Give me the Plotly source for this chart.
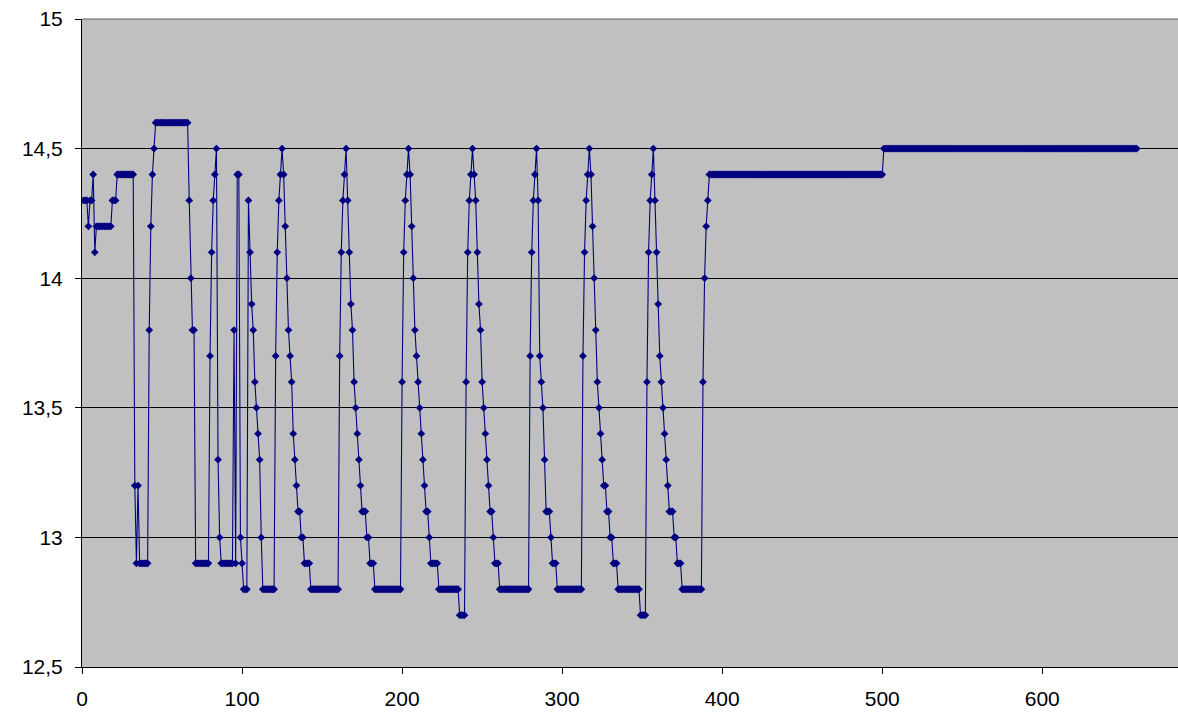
import plotly.graph_objects as go

# Run-length description of the series (value, repeat count)
run_values = [
    14.3, 14.2, 14.3, 14.4, 14.1, 14.2, 14.3, 14.4,
    13.2, 12.9, 13.2, 12.9,
    13.8, 14.2, 14.4, 14.5, 14.6,
    14.3, 14.0, 13.8, 12.9,
    13.7, 14.1, 14.3, 14.4, 14.5,
    13.3, 13.0, 12.9, 13.8, 12.9, 14.4, 13.0, 12.9, 12.8,
    14.3, 14.1, 13.9, 13.8, 13.6, 13.5, 13.4, 13.3, 13.0, 12.8,
    # cycle peak ~125
    13.7, 14.1, 14.3, 14.4, 14.5, 14.4, 14.2, 14.0, 13.8, 13.7, 13.6, 13.4, 13.3, 13.2,
    13.1, 13.0, 12.9, 12.8,
    # cycle peak ~165
    13.7, 14.1, 14.3, 14.4, 14.5, 14.3, 14.1, 13.9, 13.8, 13.6, 13.5, 13.4, 13.3, 13.2,
    13.1, 13.0, 12.9, 12.8,
    # cycle peak ~204
    13.6, 14.1, 14.3, 14.4, 14.5, 14.4, 14.2, 14.0, 13.8, 13.7, 13.6, 13.5, 13.4, 13.3, 13.2,
    13.1, 13.0, 12.9, 12.8, 12.7,
    # cycle peak ~244
    13.6, 14.1, 14.3, 14.4, 14.5, 14.4, 14.3, 14.1, 13.9, 13.8, 13.6, 13.5, 13.4, 13.3, 13.2,
    13.1, 13.0, 12.9, 12.8,
    # cycle peak ~284
    13.7, 14.1, 14.3, 14.4, 14.5, 14.3, 13.7, 13.6, 13.5, 13.3,
    13.1, 13.0, 12.9, 12.8,
    # cycle peak ~317
    13.7, 14.1, 14.3, 14.4, 14.5, 14.4, 14.2, 14.0, 13.8, 13.6, 13.5, 13.4, 13.3,
    13.2, 13.1, 13.0, 12.9, 12.8, 12.7,
    # cycle peak ~357
    13.6, 14.1, 14.3, 14.4, 14.5, 14.3, 14.1, 13.9, 13.7, 13.6, 13.5, 13.4, 13.3, 13.2,
    13.1, 13.0, 12.9, 12.8,
    # final rise and plateaus
    13.6, 14.0, 14.2, 14.3, 14.4, 14.5,
]
run_lengths = [
    3, 1, 2, 1, 1, 10, 3, 11,
    1, 1, 1, 6,
    1, 1, 1, 1, 21,
    1, 1, 2, 9,
    1, 1, 1, 1, 1,
    1, 1, 8, 1, 1, 2, 1, 1, 3,
    1, 1, 1, 1, 1, 1, 1, 1, 1, 8,
    1, 1, 1, 1, 1, 1, 1, 1, 1, 1, 1, 1, 1, 1,
    2, 2, 4, 18,
    1, 1, 1, 1, 1, 1, 1, 1, 1, 1, 1, 1, 1, 1,
    3, 2, 3, 17,
    1, 1, 1, 1, 1, 1, 1, 1, 1, 1, 1, 1, 1, 1, 1,
    2, 1, 5, 13, 4,
    1, 1, 1, 1, 1, 1, 1, 1, 1, 1, 1, 1, 1, 1, 1,
    2, 1, 3, 19,
    1, 1, 1, 1, 1, 1, 1, 1, 1, 1,
    3, 1, 3, 16,
    1, 1, 1, 1, 1, 1, 1, 1, 1, 1, 1, 1, 1,
    2, 2, 2, 3, 14, 4,
    1, 1, 1, 1, 1, 1, 1, 1, 1, 1, 1, 1, 1, 1,
    3, 2, 3, 13,
    1, 1, 1, 1, 109, 159,
]

x_ticks = [0, 100, 200, 300, 400, 500, 600]
y_ticks = [12.5, 13, 13.5, 14, 14.5, 15]

y_values = []
for v, n in zip(run_values, run_lengths):
    y_values.extend([v] * n)
x_values = list(range(1, len(y_values) + 1))

navy = "#000080"
font = dict(family="Liberation Sans, Arial, sans-serif", size=21, color="black")

fig = go.Figure()
fig.add_trace(go.Scatter(
    x=x_values, y=y_values, mode="lines+markers",
    line=dict(color=navy, width=1.1),
    marker=dict(symbol="diamond", size=6, color=navy, line=dict(width=0)),
    showlegend=False,
))

fig.update_layout(
    width=1178, height=716,
    margin=dict(l=82, r=0, t=19, b=49),
    paper_bgcolor="white",
    plot_bgcolor="#C0C0C0",
    separators=", ",
    font=font,
    xaxis=dict(
        range=[0, 684.8], tickvals=x_ticks, ticks="outside", ticklen=6,
        tickcolor="black", showline=True, linecolor="black", linewidth=1,
        showgrid=False, zeroline=False, tickfont=font, ticklabelstandoff=7,
    ),
    yaxis=dict(
        range=[12.5, 15], tickvals=y_ticks, ticks="outside", ticklen=6,
        tickcolor="black", showline=True, linecolor="black", linewidth=1,
        showgrid=True, gridcolor="black", gridwidth=1, zeroline=False,
        tickfont=font, ticklabelstandoff=8,
    ),
    shapes=[dict(type="line", xref="paper", yref="paper", x0=0, x1=1, y0=1, y1=1,
                 line=dict(color="#606060", width=1), layer="above")],
)

fig.write_html("out.html", config={"displayModeBar": False},
               post_script="document.body.style.margin='0';document.body.style.overflow='hidden';")
